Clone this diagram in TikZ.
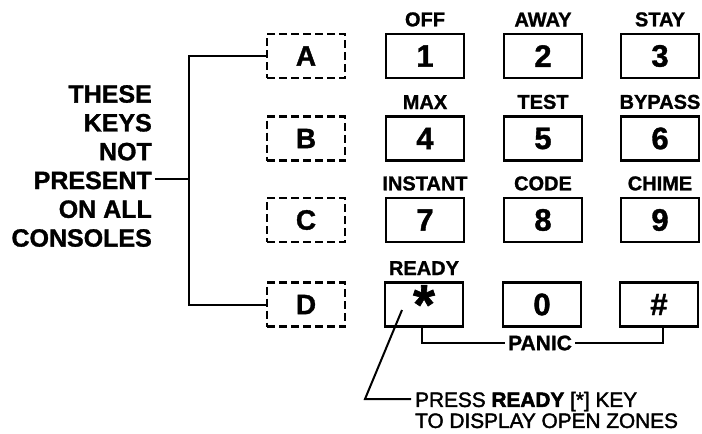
\documentclass[tikz,border=0pt]{standalone}
\usepackage{fontspec}
\setmainfont{Liberation Sans}[BoldFeatures={FakeBold=1.2}]
\newfontfamily\heavyfont{Liberation Sans Bold}[FakeBold=2.5]
\newfontfamily\medfont{Liberation Sans}[FakeBold=1.8]
\usetikzlibrary{positioning}

\begin{document}
\begin{tikzpicture}[
    x=1pt, y=-1pt,
    font=\bfseries,
    key/.style={draw, line width=2.6pt, minimum width=78pt, minimum height=44pt,
      inner sep=0pt, font=\fontsize{31}{31}\selectfont\bfseries},
    optkey/.style={draw, line width=2.2pt, dash pattern=on 8pt off 4pt,
      minimum width=78pt, minimum height=44pt, inner sep=0pt,
      font=\fontsize{28}{28}\selectfont\bfseries},
    keylabel/.style={inner sep=0pt, label distance=6pt,
      font=\fontsize{20}{20}\selectfont\bfseries},
    wire/.style={line width=2pt}
  ]
    \useasboundingbox (0,0) rectangle (702,434);

    % keys that only some consoles have
    \node[optkey] (kA) at (306,56) {A};
    \node[optkey] (kB) at (306,138.5) {B};
    \node[optkey] (kC) at (306,220) {C};
    \node[optkey] (kD) at (306,304.5) {D};

    % number pad
    \node[key, label={[keylabel]above:OFF}] (k1) at (425,56) {1};
    \node[key, label={[keylabel]above:AWAY}] (k2) at (543,56) {2};
    \node[key, label={[keylabel]above:STAY}] (k3) at (660,56) {3};
    \node[key, label={[keylabel]above:MAX}] (k4) at (425,138.5) {4};
    \node[key, label={[keylabel]above:TEST}] (k5) at (543,138.5) {5};
    \node[key, label={[keylabel]above:BYPASS}] (k6) at (660,138.5) {6};
    \node[key, label={[keylabel]above:INSTANT}] (k7) at (425,220) {7};
    \node[key, label={[keylabel]above:CODE}] (k8) at (543,220) {8};
    \node[key, label={[keylabel]above:CHIME}] (k9) at (660,220) {9};
    \node[key, label={[keylabel]above:READY},
      font=\fontsize{56}{56}\selectfont\bfseries] (kstar) at (424,304.5) {\raisebox{-4pt}{*}};
    \node[key] (k0) at (542,304.5) {0};
    \node[key] (khash) at (659,304.5) {\#};

    \node[anchor=east, inner sep=0pt, align=right,
      font=\fontsize{25}{28.8}\selectfont\bfseries] (note) at (152,166)
      {THESE\\KEYS\\NOT\\PRESENT\\ON ALL\\CONSOLES};
    \node[inner sep=3pt, font=\fontsize{21}{21}\selectfont\bfseries] (panic) at (540,343) {PANIC};
    \node[anchor=west, inner sep=0pt, align=left,
      font=\fontsize{20.8}{21}\medfont] (press) at (415,410)
      {PRESS {\heavyfont READY} [*] KEY\\TO DISPLAY OPEN ZONES};

    \coordinate (trunk) at (189,179);
    \coordinate (present) at (155,179);
    \coordinate (tip) at (402,310);
    \coordinate (bend) at (365,399);

    \draw[wire] (kA.west) -| (trunk) |- (kD.west);
    \draw[wire] (present) -- (trunk);
    \draw[wire] ([xshift=-2pt]kstar.south) |- (panic.west);
    \draw[wire] (panic.east) -| ([xshift=4pt]khash.south);
    \draw[wire, shorten >=4pt] (tip) -- (bend) -- (bend -| press.west);
  \end{tikzpicture}
\end{document}
